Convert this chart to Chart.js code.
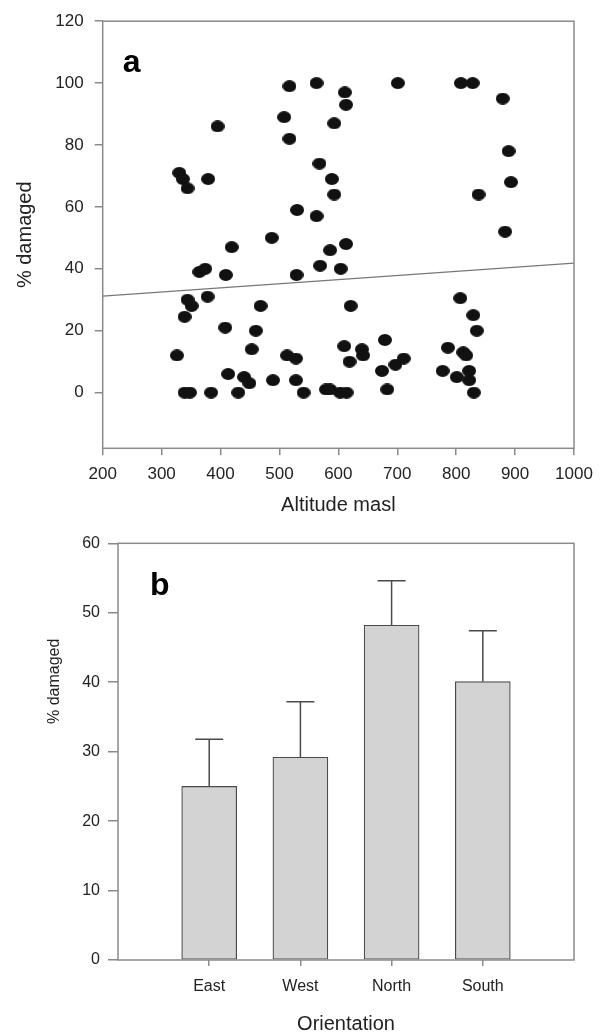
<!DOCTYPE html>
<html>
<head>
<meta charset="utf-8">
<script src="https://cdn.jsdelivr.net/npm/chart.js@4.4.1/dist/chart.umd.min.js"></script>
<style>
  html, body { margin: 0; padding: 0; background: #fff; }
  #wrap { position: relative; width: 607px; height: 1035px; }
  #chart-a { position: absolute; left: 0; top: 0; }
  #chart-b { position: absolute; left: 0; top: 525px; }
</style>
</head>
<body>
<div id="wrap">
  <canvas id="chart-a" width="607" height="525"></canvas>
  <canvas id="chart-b" width="607" height="510"></canvas>
</div>
<script>
// panel a: altitude vs % damaged
const altitude = [517, 563, 611, 613, 395, 508, 517, 593, 330, 336, 344, 379, 568, 589, 593, 530, 563, 487, 419, 586,
  613, 701, 808, 828, 879, 889, 893, 838, 883, 326, 339, 348, 384, 430, 339, 344, 351, 364, 374, 378,
  409, 408, 413, 440, 449, 453, 460, 468, 489, 513, 528, 528, 541, 529, 569, 604, 579, 586, 603, 614,
  621, 610, 619, 640, 642, 679, 674, 697, 711, 683, 786, 777, 807, 829, 835, 812, 817, 801, 822, 822, 830];
const damaged = [99, 100, 97, 93, 86, 89, 82, 87, 71, 69, 66, 69, 74, 69, 64, 59, 57, 50, 47, 46,
  48, 100, 100, 100, 95, 78, 68, 64, 52, 12, 0, 0, 0, 0, 24.5, 30, 28, 39, 40, 31,
  38, 21, 6, 5, 3, 14, 20, 28, 4, 12, 11, 4, 0, 38, 41, 40, 1, 1, 0, 0,
  28, 15, 10, 14, 12, 17, 7, 9, 11, 1, 14.5, 7, 30.5, 25, 20, 13, 12, 5, 7, 4, 0];
const fitX = [200, 1000];
const fitY = [31.2, 41.8];
const altTicks = [200, 300, 400, 500, 600, 700, 800, 900, 1000];
const damTicksA = [0, 20, 40, 60, 80, 100, 120];

// panel b: orientation means with error bars
const orientation = ['East', 'West', 'North', 'South'];
const meanDamage = [25, 29.2, 48.2, 40.1];
const errTop = [31.8, 37.2, 54.6, 47.4];
const damTicksB = [0, 10, 20, 30, 40, 50, 60];

const axisGray = '#8a8a8a';
const textCol = '#222';
const fontFam = '"Liberation Sans", Arial, sans-serif';

// slightly wide dot, like the printed figure
const dot = document.createElement('canvas');
dot.width = 14; dot.height = 12;
const dctx = dot.getContext('2d');
dctx.fillStyle = '#111';
dctx.beginPath();
dctx.ellipse(7, 6, 7, 6, 0, 0, Math.PI * 2);
dctx.fill();

function frameAndLetter(letter, dx, dy) {
    return {
        id: 'frame' + letter,
        afterDraw(chart) {
            const a = chart.chartArea;
            const ctx = chart.ctx;
            ctx.save();
            ctx.strokeStyle = axisGray;
            ctx.lineWidth = 1.5;
            ctx.strokeRect(a.left, a.top, a.right - a.left, a.bottom - a.top);
            ctx.fillStyle = '#000';
            ctx.font = 'bold 32px ' + fontFam;
            ctx.textBaseline = 'alphabetic';
            ctx.fillText(letter, a.left + dx, a.top + dy);
            ctx.restore();
        }
    };
}

// panel b y title sits higher than the axis middle in the original
const yTitleB = {
    id: 'yTitleB',
    afterDraw(chart) {
        const a = chart.chartArea;
        const ctx = chart.ctx;
        ctx.save();
        ctx.translate(55, a.top + 138);
        ctx.rotate(-Math.PI / 2);
        ctx.fillStyle = textCol;
        ctx.font = '16px ' + fontFam;
        ctx.textAlign = 'center';
        ctx.textBaseline = 'middle';
        ctx.fillText('% damaged', 0, 0);
        ctx.restore();
    }
};

const errorBars = {
    id: 'errorBars',
    afterDatasetsDraw(chart) {
        const meta = chart.getDatasetMeta(0);
        const yScale = chart.scales.y;
        const ctx = chart.ctx;
        ctx.save();
        ctx.strokeStyle = '#4a4a4a';
        ctx.lineWidth = 1.5;
        meta.data.forEach((bar, i) => {
            const yTop = yScale.getPixelForValue(errTop[i]);
            ctx.beginPath();
            ctx.moveTo(bar.x, bar.y);
            ctx.lineTo(bar.x, yTop);
            ctx.moveTo(bar.x - 14, yTop);
            ctx.lineTo(bar.x + 14, yTop);
            ctx.stroke();
        });
        ctx.restore();
    }
};

const ctxA = document.getElementById('chart-a').getContext('2d');
const chartA = new Chart(ctxA, {
    type: 'scatter',
    data: {
        datasets: [
            {
                data: altitude.map((x, i) => ({ x: x, y: damaged[i] })),
                pointStyle: dot,
                order: 1
            },
            {
                type: 'line',
                data: fitX.map((x, i) => ({ x: x, y: fitY[i] })),
                borderColor: '#777',
                borderWidth: 1.2,
                pointRadius: 0,
                order: 2
            }
        ]
    },
    options: {
        responsive: false,
        animation: false,
        events: [],
        layout: { padding: { top: 16, right: 33, left: 0, bottom: 0 } },
        plugins: { legend: { display: false }, tooltip: { enabled: false } },
        scales: {
            x: {
                type: 'linear',
                min: 200,
                max: 1000,
                afterBuildTicks: (s) => { s.ticks = altTicks.map(v => ({ value: v })); },
                afterFit: (s) => { s.height = 76.7; },
                border: { display: false },
                grid: { drawOnChartArea: false, drawTicks: true, tickLength: 7, color: axisGray, lineWidth: 1.5 },
                ticks: { color: textCol, font: { family: fontFam, size: 17 }, padding: 9, maxRotation: 0, callback: (v) => String(v) },
                title: { display: true, text: 'Altitude masl', color: textCol, font: { family: fontFam, size: 20 }, padding: { top: 0, bottom: 8 } }
            },
            y: {
                min: -18,
                max: 120,
                afterBuildTicks: (s) => { s.ticks = damTicksA.map(v => ({ value: v })); },
                afterFit: (s) => { s.width = 102.7; },
                border: { display: false },
                grid: { drawOnChartArea: false, drawTicks: true, tickLength: 8, color: axisGray, lineWidth: 1.5 },
                ticks: { color: textCol, font: { family: fontFam, size: 17 }, padding: 11 },
                title: { display: true, text: '% damaged', color: textCol, font: { family: fontFam, size: 20 }, padding: { top: 13, bottom: 0 } }
            }
        }
    },
    plugins: [frameAndLetter('a', 20, 51)]
});

const ctxB = document.getElementById('chart-b').getContext('2d');
const chartB = new Chart(ctxB, {
    type: 'bar',
    data: {
        datasets: [{
            data: meanDamage.map((v, i) => ({ x: i + 1, y: v })),
            backgroundColor: '#d3d3d3',
            borderColor: '#4a4a4a',
            borderWidth: 1.2,
            borderSkipped: false,
            barThickness: 55
        }]
    },
    options: {
        responsive: false,
        animation: false,
        events: [],
        layout: { padding: { top: 18.3, right: 33, left: 0, bottom: 0 } },
        plugins: { legend: { display: false }, tooltip: { enabled: false } },
        scales: {
            x: {
                type: 'linear',
                min: 0,
                max: 5,
                offset: false,
                afterBuildTicks: (s) => { s.ticks = orientation.map((o, i) => ({ value: i + 1 })); },
                afterFit: (s) => { s.height = 75; },
                border: { display: false },
                grid: { drawOnChartArea: false, drawTicks: true, tickLength: 6, color: axisGray, lineWidth: 1.5, offset: false },
                ticks: {
                    color: textCol, font: { family: fontFam, size: 16 }, padding: 11, maxRotation: 0,
                    callback: (v) => orientation[v - 1]
                },
                title: { display: true, text: 'Orientation', color: textCol, font: { family: fontFam, size: 20, lineHeight: 1.0 }, padding: { top: 0, bottom: 1 } }
            },
            y: {
                min: 0,
                max: 60,
                afterBuildTicks: (s) => { s.ticks = damTicksB.map(v => ({ value: v })); },
                afterFit: (s) => { s.width = 118; },
                border: { display: false },
                grid: { drawOnChartArea: false, drawTicks: true, tickLength: 10, color: axisGray, lineWidth: 1.5 },
                ticks: { color: textCol, font: { family: fontFam, size: 16 }, padding: 8 }
            }
        }
    },
    plugins: [errorBars, yTitleB, frameAndLetter('b', 32, 52)]
});
</script>
</body>
</html>
